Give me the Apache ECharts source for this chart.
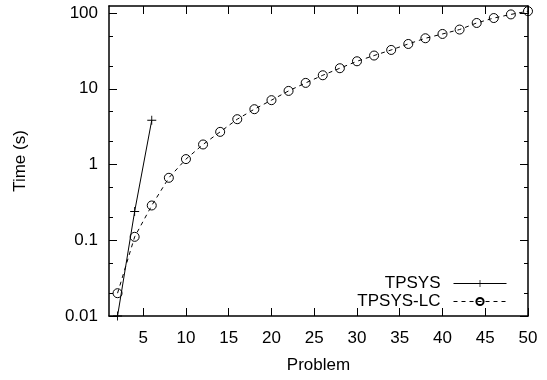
<!DOCTYPE html>
<html>
<head>
<meta charset="utf-8">
<script src="https://cdn.jsdelivr.net/npm/echarts@6/dist/echarts.min.js"></script>
<style>html,body{margin:0;padding:0;background:#fff}#c{width:547px;height:380px}</style>
</head>
<body>
<div id="c"></div>
<script>
var tpsysX = [2, 4, 6];
var tpsysY = [0.01, 0.24, 3.85];
var lcX = [2,4,6,8,10,12,14,16,18,20,22,24,26,28,30,32,34,36,38,40,42,44,46,48,50];
var lcY = [0.020,0.111,0.288,0.668,1.18,1.84,2.70,3.97,5.38,7.08,9.38,11.97,15.1,18.7,23.1,27.5,32.6,39.1,46.5,53,60.6,74,86,96,106];
var xTicks = [5,10,15,20,25,30,35,40,45,50];
var yMajor = [0.01,0.1,1,10,100];
var yMinor = [0.02,0.05,0.2,0.5,2,5,20,50];

var FONT = 'Liberation Sans';
var FS = 17;
function pairs(xs, ys){ return xs.map(function(x,i){return [x, ys[i]];}); }
function xAx(pos, labels){
  return {type:'value', position:pos, min:1, max:50,
    axisLine:{show:true, lineStyle:{color:'#000', width:1.5}},
    axisTick:{show:true, inside:true, length:8, lineStyle:{color:'#000',width:1}, customValues:xTicks},
    axisLabel:{show:labels, customValues:xTicks, color:'#000', fontFamily:FONT, fontSize:FS, margin:14},
    splitLine:{show:false},
    name: labels ? 'Problem' : '', nameLocation:'middle', nameGap:41,
    nameTextStyle:{color:'#000', fontFamily:FONT, fontSize:FS}
  };
}
function yAx(pos, vals, len, labels, showLine){
  return {type:'log', position:pos, min:0.01, max:124,
    axisLine:{show:showLine, lineStyle:{color:'#000', width:1.5}},
    axisTick:{show:true, inside:true, length:len, lineStyle:{color:'#000',width:1}, customValues:vals},
    axisLabel:{show:labels, customValues:vals, color:'#000', fontFamily:FONT, fontSize:FS, margin:11,
      formatter:function(v){ return String(+(+v).toPrecision(3)); }},
    splitLine:{show:false},
    name: labels ? 'Time (s)' : '', nameLocation:'middle', nameGap:80,
    nameTextStyle:{color:'#000', fontFamily:FONT, fontSize:FS}
  };
}
var plusPath = 'path://M0,4.5H10V5.5H0Z M4.5,0H5.5V10H4.5Z';
var chart = echarts.init(document.getElementById('c'));
chart.setOption({
  animation:false,
  backgroundColor:'#fff',
  grid:{left:109, right:19, top:6, bottom:64},
  xAxis:[xAx('bottom', true), xAx('top', false)],
  yAxis:[yAx('left', yMajor, 8, true, true), yAx('left', yMinor, 4, false, false),
         yAx('right', yMajor, 8, false, true), yAx('right', yMinor, 4, false, false)],
  legend:{orient:'vertical', right:35, top:270, align:'right', itemWidth:53, itemHeight:9, itemGap:1,
    lineStyle:{width:1},
    textStyle:{color:'#000', fontFamily:FONT, fontSize:FS, lineHeight:17, padding:[0,8,0,0]},
    data:['TPSYS','TPSYS-LC']},
  series:[
    {name:'TPSYS', type:'line', data:pairs(tpsysX,tpsysY),
      symbol:plusPath, symbolSize:9, showAllSymbol:true,
      lineStyle:{color:'#000', width:1}, itemStyle:{color:'#000'}, clip:false},
    {name:'TPSYS-LC', type:'line', data:pairs(lcX,lcY),
      symbol:'circle', symbolSize:9, showAllSymbol:true,
      lineStyle:{color:'#000', width:1, type:[4,4]},
      itemStyle:{color:'rgba(0,0,0,0)', borderColor:'#000', borderWidth:1}, clip:false}
  ]
});
</script>
</body>
</html>
